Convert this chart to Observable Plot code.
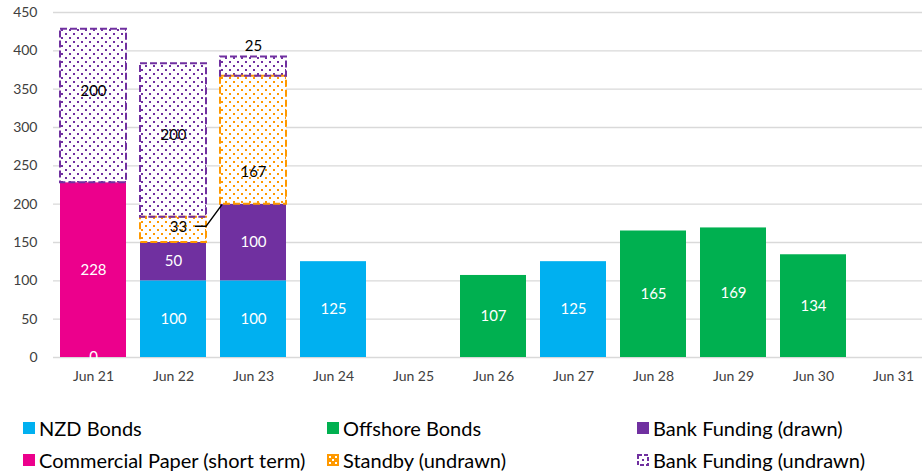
<!DOCTYPE html>
<html><head><meta charset="utf-8">
<script src="https://cdn.jsdelivr.net/npm/d3@7"></script>
<script src="https://cdn.jsdelivr.net/npm/@observablehq/plot@0.6"></script>
<style>
body{margin:0;background:#fff;font-family:Lato,sans-serif;}
#wrap{position:relative;width:922px;height:472px;overflow:hidden;}
.item{position:absolute;display:flex;align-items:center;font-size:20px;color:#000;white-space:nowrap;line-height:22px;}
.item svg{margin-right:4px;}
</style></head><body>
<div id="wrap"><div id="chart"></div><div id="legend"></div></div>
<script>
const categories = ["Jun 21","Jun 22","Jun 23","Jun 24","Jun 25","Jun 26","Jun 27","Jun 28","Jun 29","Jun 30","Jun 31"];
const seriesNames = ["NZD Bonds","Offshore Bonds","Commercial Paper (short term)","Bank Funding (drawn)","Standby (undrawn)","Bank Funding (undrawn)"];
const nzdBonds        = [0,   100, 100, 125, null, null, 125, null, null, null, null];
const offshoreBonds   = [null,null,null,null,null, 107, null, 165, 169, 134, null];
const commercialPaper = [228, null,null,null,null, null, null,null,null,null, null];
const bankDrawn       = [null,50,  100, null,null, null, null,null,null,null, null];
const standbyUndrawn  = [null,33,  167, null,null, null, null,null,null,null, null];
const bankUndrawn     = [200, 200, 25,  null,null, null, null,null,null,null, null];
const yTicks = [0,50,100,150,200,250,300,350,400,450];

const seriesValues = [nzdBonds, offshoreBonds, commercialPaper, bankDrawn, standbyUndrawn, bankUndrawn];
const seriesFill = ["#00B0F0","#00B050","#EC008C","#7030A0","url(#dotsOrange)","url(#dotsPurple)"];
const seriesLine = [null,null,null,null,"#FF9900","#7030A0"];
const patterned = [false,false,false,false,true,true];

const rows = [];
categories.forEach((cat, i) => {
  let cum = 0;
  seriesNames.forEach((s, k) => {
    const v = seriesValues[k][i];
    if (v == null) return;
    rows.push({cat, series: s, k, value: v, y1: cum, y2: cum + v, mid: cum + v / 2});
    cum += v;
  });
});
const pick = (cat, k) => rows.filter(d => d.cat === cat && d.k === k);

const marks = [Plot.ruleY(yTicks, {stroke: "#d9d9d9", strokeWidth: 1.4})];
seriesNames.forEach((s, k) => {
  marks.push(Plot.barY(rows.filter(d => d.k === k), {x: "cat", y1: "y1", y2: "y2", fill: seriesFill[k]}));
});
seriesNames.forEach((s, k) => {
  if (!patterned[k]) return;
  marks.push(Plot.barY(rows.filter(d => d.k === k), {x: "cat", y1: "y1", y2: "y2", fill: "none", stroke: seriesLine[k], strokeWidth: 2, strokeDasharray: "7,3"}));
});
// labels
const lbl = {x: "cat", y: "mid", text: d => String(d.value), fontSize: 15};
marks.push(Plot.text(rows.filter(d => !patterned[d.k]), {...lbl, fill: "white"}));
marks.push(Plot.text(pick("Jun 21", 5), {...lbl, fill: "black", dy: -15}));
marks.push(Plot.text(pick("Jun 22", 5), {...lbl, fill: "black", dy: -5}));
marks.push(Plot.text(pick("Jun 23", 4), {...lbl, fill: "black", dy: 32}));
marks.push(Plot.text(pick("Jun 22", 4), {...lbl, fill: "black", dx: 5, dy: -3}));
marks.push(Plot.text(pick("Jun 23", 5), {...lbl, y: "y2", fill: "black", dy: -11}));

const plot = Plot.plot({
  width: 922, height: 400,
  marginLeft: 53, marginRight: 0, marginTop: 12, marginBottom: 43,
  style: {fontFamily: "Lato, sans-serif", fontSize: "14px", color: "#404040", background: "white"},
  x: {domain: categories, range: [53, 933], paddingInner: 0.175, paddingOuter: 0.0875, tickSize: 0, tickPadding: 14, label: null},
  y: {domain: [0, 450], ticks: yTicks, tickSize: 0, tickPadding: 16, label: null},
  marks
});
document.getElementById("chart").appendChild(plot);

const svg = d3.select(plot);
const defs = svg.insert("defs", ":first-child");
function dots(id, color) {
  const p = defs.append("pattern").attr("id", id).attr("width", 8).attr("height", 8).attr("patternUnits", "userSpaceOnUse");
  p.append("rect").attr("width", 8).attr("height", 8).attr("fill", "white");
  p.append("rect").attr("x", 1).attr("y", 1).attr("width", 2).attr("height", 2).attr("fill", color);
  p.append("rect").attr("x", 5).attr("y", 5).attr("width", 2).attr("height", 2).attr("fill", color);
}
dots("dotsPurple", "#7030A0");
dots("dotsOrange", "#FF9900");

// leader line for the "33" label, positioned through the plot's scales
const xs = plot.scale("x"), ys = plot.scale("y");
const bw = xs.bandwidth;
const c22 = xs.apply("Jun 22") + bw / 2;
const y33 = ys.apply(pick("Jun 22", 4)[0].mid) - 3;
const x23 = xs.apply("Jun 23");
const y200 = ys.apply(pick("Jun 23", 3)[0].y2);
svg.append("path").attr("d", `M${c22 + 22},${y33}H${c22 + 33}L${x23 + 2},${y200 + 1}`)
  .attr("fill", "none").attr("stroke", "black").attr("stroke-width", 1.5);

// legend
const legendPos = [[23, 417],[327, 417],[637, 417],[23, 449],[327, 449],[637, 449]];
const legendOrder = [0, 1, 3, 2, 4, 5];
const lg = document.getElementById("legend");
legendOrder.forEach((k, j) => {
  const [lx, ly] = legendPos[j];
  const div = document.createElement("div");
  div.className = "item";
  div.style.left = lx + "px"; div.style.top = ly + "px";
  let sw;
  if (k === 4) {
    sw = `<svg width="12" height="12"><rect width="12" height="12" fill="#FF9900"/><rect x="2" y="2" width="2" height="2" fill="white"/><rect x="8" y="2" width="2" height="2" fill="white"/><rect x="5" y="5" width="2" height="2" fill="white"/><rect x="2" y="8" width="2" height="2" fill="white"/><rect x="8" y="8" width="2" height="2" fill="white"/></svg>`;
  } else if (k === 5) {
    sw = `<svg width="12" height="12"><rect x="1" y="1" width="10" height="10" fill="white" stroke="#7030A0" stroke-width="2" stroke-dasharray="4,2"/><rect x="5" y="5" width="2" height="2" fill="#7030A0"/></svg>`;
  } else {
    sw = `<svg width="12" height="12"><rect width="12" height="12" fill="${seriesFill[k]}"/></svg>`;
  }
  div.innerHTML = sw + `<span>${seriesNames[k]}</span>`;
  lg.appendChild(div);
});
</script>
</body></html>
